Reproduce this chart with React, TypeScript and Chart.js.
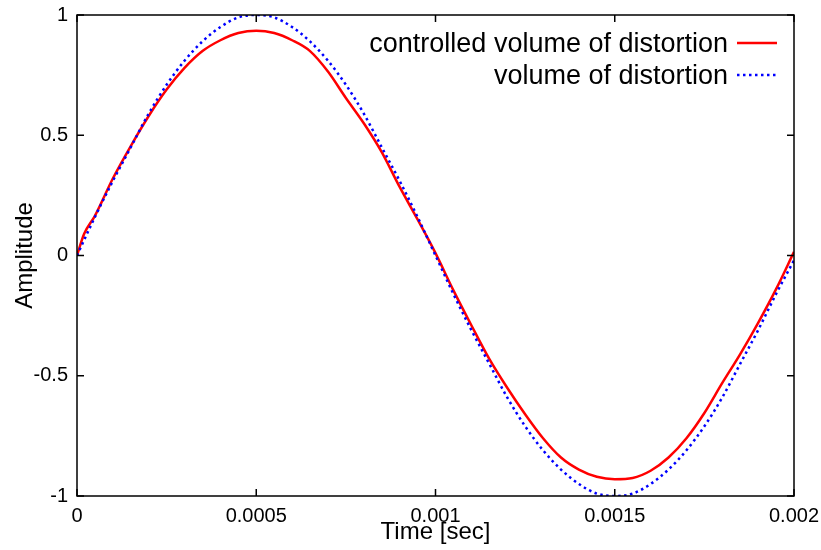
import React, { useEffect, useRef } from "react";
import { Chart, registerables } from "chart.js";

Chart.register(...registerables);

const blueTimes = [
  0, 0.00005, 0.0001, 0.00015, 0.0002, 0.00025, 0.0003, 0.00035, 0.0004, 0.00045,
  0.0005, 0.00055, 0.0006, 0.00065, 0.0007, 0.00075, 0.0008, 0.00085, 0.0009, 0.00095,
  0.001, 0.00105, 0.0011, 0.00115, 0.0012, 0.00125, 0.0013, 0.00135, 0.0014, 0.00145,
  0.0015, 0.00155, 0.0016, 0.00165, 0.0017, 0.00175, 0.0018, 0.00185, 0.0019, 0.00195,
  0.002,
];
const blueAmplitude = [
  0, 0.16, 0.31, 0.45, 0.59, 0.71, 0.81, 0.89, 0.95, 0.99,
  1.0, 0.99, 0.95, 0.89, 0.81, 0.71, 0.59, 0.45, 0.31, 0.16,
  0.0, -0.16, -0.31, -0.45, -0.59, -0.71, -0.81, -0.89, -0.95, -0.99,
  -1.0, -0.99, -0.95, -0.89, -0.81, -0.71, -0.59, -0.45, -0.31, -0.16,
  -0.02,
];

const redTimes = [
  0, 0.00002, 0.00005, 0.0001, 0.00015, 0.0002, 0.00025, 0.0003, 0.00035, 0.0004, 0.00045,
  0.0005, 0.00055, 0.0006, 0.00065, 0.0007, 0.00075, 0.0008, 0.00085, 0.0009, 0.00095,
  0.001, 0.00105, 0.0011, 0.00115, 0.0012, 0.00125, 0.0013, 0.00135, 0.0014, 0.00145,
  0.0015, 0.00155, 0.0016, 0.00165, 0.0017, 0.00175, 0.0018, 0.00185, 0.0019, 0.00195,
  0.002,
];
const redAmplitude = [
  0, 0.09, 0.165, 0.32, 0.455, 0.58, 0.69, 0.78, 0.85, 0.895, 0.925,
  0.935, 0.925, 0.895, 0.85, 0.765, 0.655, 0.55, 0.43, 0.285, 0.15,
  0.01, -0.145, -0.29, -0.43, -0.55, -0.66, -0.76, -0.84, -0.89, -0.92,
  -0.93, -0.925, -0.895, -0.84, -0.76, -0.655, -0.53, -0.41, -0.28, -0.14,
  0.015,
];

const xTickValues = [0, 0.0005, 0.001, 0.0015, 0.002];
const xTickLabels = ["0", "0.0005", "0.001", "0.0015", "0.002"];
const yTickValues = [-1, -0.5, 0, 0.5, 1];
const yTickLabels = ["-1", "-0.5", "0", "0.5", "1"];

const seriesLabels = ["controlled volume of distortion", "volume of distortion"];
const xTitle = "Time [sec]";
const yTitle = "Amplitude";

const FONT = "'Liberation Sans', Arial, Helvetica, sans-serif";

const framePlugin = {
  id: "gnuplotFrame",
  afterDatasetsDraw(chart: any) {
    const { ctx, chartArea } = chart;
    const { left, right, top, bottom } = chartArea;
    const xs = chart.scales.x;
    const ys = chart.scales.y;
    ctx.save();
    ctx.strokeStyle = "#000";
    ctx.lineWidth = 1.5;
    const tl = 7;
    ctx.beginPath();
    xTickValues.forEach((v) => {
      const px = xs.getPixelForValue(v);
      ctx.moveTo(px, bottom);
      ctx.lineTo(px, bottom - tl);
      ctx.moveTo(px, top);
      ctx.lineTo(px, top + tl);
    });
    yTickValues.forEach((v) => {
      const py = ys.getPixelForValue(v);
      ctx.moveTo(left, py);
      ctx.lineTo(left + tl, py);
      ctx.moveTo(right, py);
      ctx.lineTo(right - tl, py);
    });
    ctx.stroke();
    ctx.strokeRect(left, top, right - left, bottom - top);

    // legend (gnuplot style: text right-aligned, sample on the right)
    const textRight = right - 66;
    const sx0 = right - 57;
    const sx1 = right - 17;
    const rows = [top + 28, top + 60];
    ctx.font = `27px ${FONT}`;
    ctx.fillStyle = "#000";
    ctx.textAlign = "right";
    ctx.textBaseline = "middle";
    chart.data.datasets.forEach((ds: any, i: number) => {
      const y = rows[i];
      ctx.fillText(ds.label, textRight, y + 1.5);
      ctx.beginPath();
      ctx.strokeStyle = ds.borderColor;
      ctx.lineWidth = ds.borderWidth;
      ctx.setLineDash(ds.borderDash || []);
      ctx.moveTo(sx0, y);
      ctx.lineTo(sx1, y);
      ctx.stroke();
      ctx.setLineDash([]);
    });
    ctx.restore();
  },
};

export default function App() {
  const ref = useRef<HTMLCanvasElement | null>(null);
  useEffect(() => {
    if (!ref.current) return;
    const chart = new Chart(ref.current, {
      type: "line",
      data: {
        datasets: [
          {
            label: seriesLabels[0],
            data: redTimes.map((t, i) => ({ x: t, y: redAmplitude[i] })),
            borderColor: "#ff0000",
            borderWidth: 2.5,
            pointRadius: 0,
            cubicInterpolationMode: "monotone",
            order: 1,
          },
          {
            label: seriesLabels[1],
            data: blueTimes.map((t, i) => ({ x: t, y: blueAmplitude[i] })),
            borderColor: "#0000ff",
            borderWidth: 2.5,
            borderDash: [2.5, 3.5],
            pointRadius: 0,
            cubicInterpolationMode: "monotone",
            order: 0,
          },
        ],
      },
      options: {
        animation: false,
        responsive: true,
        maintainAspectRatio: false,
        layout: { padding: { left: 0, right: 27, top: 15, bottom: 0 } },
        plugins: { legend: { display: false }, tooltip: { enabled: false } },
        scales: {
          x: {
            type: "linear",
            min: 0,
            max: 0.002,
            afterFit: (s: any) => {
              s.height = 54;
              s.paddingLeft = 0;
              s.paddingRight = 0;
            },
            afterBuildTicks: (s: any) => {
              s.ticks = xTickValues.map((v) => ({ value: v }));
            },
            grid: { display: false, drawTicks: false },
            border: { display: false },
            ticks: {
              autoSkip: false,
              maxRotation: 0,
              padding: 8,
              color: "#000",
              font: { family: FONT, size: 20 },
              callback: (v: any) => {
                const idx = xTickValues.findIndex((t) => Math.abs(t - Number(v)) < 1e-9);
                return idx >= 0 ? xTickLabels[idx] : "";
              },
            },
            title: {
              display: true,
              text: xTitle,
              color: "#000",
              font: { family: FONT, size: 24 },
              padding: { top: 0, bottom: 3 },
            },
          },
          y: {
            type: "linear",
            min: -1,
            max: 1,
            afterFit: (s: any) => {
              s.width = 77;
              s.paddingTop = 0;
              s.paddingBottom = 0;
            },
            afterBuildTicks: (s: any) => {
              s.ticks = yTickValues.map((v) => ({ value: v }));
            },
            grid: { display: false, drawTicks: false },
            border: { display: false },
            ticks: {
              autoSkip: false,
              padding: 9,
              color: "#000",
              font: { family: FONT, size: 20 },
              callback: (v: any) => {
                const idx = yTickValues.findIndex((t) => Math.abs(t - Number(v)) < 1e-9);
                return idx >= 0 ? yTickLabels[idx] : "";
              },
            },
            title: {
              display: true,
              text: yTitle,
              color: "#000",
              font: { family: FONT, size: 24 },
              padding: { top: 11, bottom: 0 },
            },
          },
        },
      },
      plugins: [framePlugin],
    });
    return () => chart.destroy();
  }, []);
  return (
    <div style={{ position: "fixed", left: 0, top: 0, width: 821, height: 550, background: "#fff" }}>
      <canvas ref={ref} />
    </div>
  );
}
